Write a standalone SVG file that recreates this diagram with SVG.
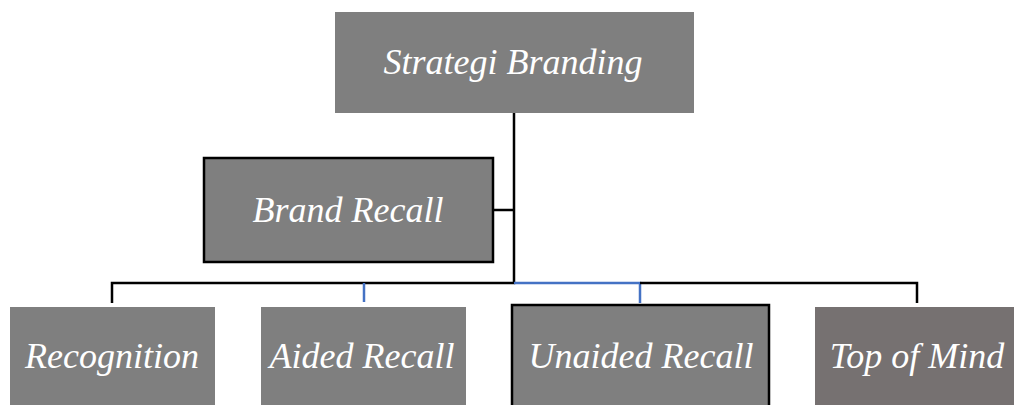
<svg xmlns="http://www.w3.org/2000/svg" width="1014" height="405" viewBox="0 0 1014 405">
<style>
.box{fill:#7f7f7f}
.bd{stroke:#000;stroke-width:2.5}
.t{font-family:"Liberation Serif","Times New Roman",serif;font-style:italic;font-size:36px;fill:#fff;text-anchor:middle}
.k{stroke:#000;stroke-width:2.5;fill:none}
.b{stroke:#4472c4;stroke-width:2.5;fill:none}
</style>
<rect width="1014" height="405" fill="#fff"/>
<g id="connectors">
<path class="k" d="M514 113V283H112V303"/>
<path class="k" d="M493 210H514"/>
<path class="b" d="M364 283V302"/>
<path class="b" d="M514 283H640V303"/>
<path class="k" d="M640 283H917V303"/>
</g>
<g id="n-strategi">
<rect class="box" x="335" y="12" width="359" height="101"/>
<text class="t" x="513" y="74">Strategi Branding</text>
</g>
<g id="n-brand-recall">
<rect class="box bd" x="204" y="158" width="289" height="104"/>
<text class="t" x="348" y="222">Brand Recall</text>
</g>
<g id="n-recognition">
<rect class="box" x="10" y="307" width="205" height="100"/>
<text class="t" x="112" y="368">Recognition</text>
</g>
<g id="n-aided">
<rect class="box" x="261" y="307" width="205" height="100"/>
<text class="t" x="362" y="368">Aided Recall</text>
</g>
<g id="n-unaided">
<rect class="box bd" x="512" y="305" width="257" height="104"/>
<text class="t" x="641" y="368">Unaided Recall</text>
</g>
<g id="n-top">
<rect x="815" y="307" width="205" height="100" fill="#767171"/>
<text class="t" x="917" y="368">Top of Mind</text>
</g>
</svg>
